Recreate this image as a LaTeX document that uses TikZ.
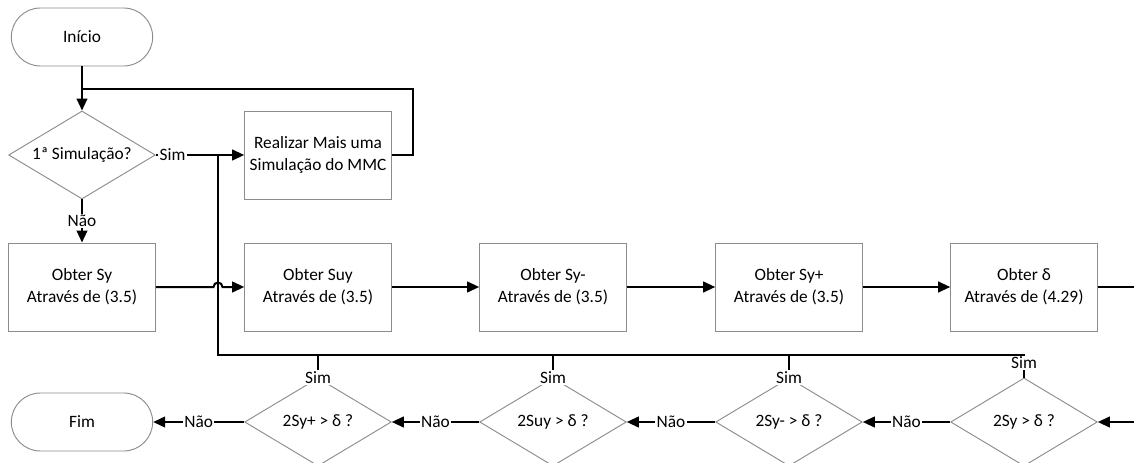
\documentclass[tikz,border=0pt]{standalone}
\usepackage{fontspec}
\setmainfont{Carlito}
\usetikzlibrary{positioning,arrows.meta,calc,shapes.geometric,shapes.misc}
\tikzset{
  >={Triangle[length=9pt,width=8pt]},
  procbox/.style={draw=black!45,line width=0.7pt,minimum width=110pt,
    minimum height=66pt,inner sep=2pt,align=center,
    font=\fontsize{13}{16.5}\selectfont},
  termbox/.style={procbox,rounded rectangle,minimum height=43.5pt},
  decbox/.style={procbox,diamond,aspect=1.67,inner sep=0pt},
  flow/.style={->,line width=1.5pt},
  wire/.style={line width=1.5pt},
  flowlbl/.style={font=\fontsize{13}{16}\selectfont,fill=white,inner sep=1pt},
}
\begin{document}
\begin{tikzpicture}[x=0.75pt,y=-0.75pt]
  \useasboundingbox (0,0) rectangle (1134,463);
  % start and first test
  \node[termbox] (start) at (82,37) {Início};
  \node[decbox] (sim1) at (82,155) {1ª Simulação?};
  \node[procbox] (mmc) at (318,155) {Realizar Mais uma\\Simulação do MMC};
  % row of computations
  \node[procbox] (obtSy) at (82,287) {Obter Sy\\Através de (3.5)};
  \node[procbox] (obtSuy) at (318,287) {Obter Suy\\Através de (3.5)};
  \node[procbox] (obtSym) at (553,287) {Obter Sy-\\Através de (3.5)};
  \node[procbox] (obtSyp) at (789,287) {Obter Sy+\\Através de (3.5)};
  \node[procbox] (obtDelta) at (1024,287) {Obter δ\\Através de (4.29)};
  % row of checks
  \node[termbox] (fim) at (82,422) {Fim};
  \node[decbox] (dec1) at (318,422) {2Sy+ > δ ?};
  \node[decbox] (dec2) at (553,422) {2Suy > δ ?};
  \node[decbox] (dec3) at (789,422) {2Sy- > δ ?};
  \node[decbox] (dec4) at (1024,422) {2Sy > δ ?};
  % helper points
  \coordinate (loopTop) at (413,89);
  \coordinate (jn) at (218,155);
  \coordinate (bus) at (218,355);
  \coordinate (outR) at (1134,287);
  \coordinate (inR) at (1134,422);
  % top part
  \draw[flow] (start.south) -- (sim1.north);
  \draw[wire] (mmc.east) -| (loopTop) -- (loopTop -| sim1.north);
  \draw[flow] (sim1.east) -- (mmc.west) node[flowlbl,pos=0.19] {Sim};
  \draw[flow] (sim1.south) -- (obtSy.north) node[flowlbl,pos=0.5] {Não};
  % computations (hop over the loop line)
  \draw[flow] (obtSy.east) -- ($(jn |- obtSy.east)+(-4.5,0)$)
    arc[start angle=180,end angle=360,radius=4.5] -- (obtSuy.west);
  \draw[flow] (obtSuy) -- (obtSym);
  \draw[flow] (obtSym) -- (obtSyp);
  \draw[flow] (obtSyp) -- (obtDelta);
  \draw[wire] (obtDelta.east) -- (outR);
  % checks
  \draw[flow] (inR) -- (dec4.east);
  \draw[flow] (dec4.west) -- (dec3.east) node[flowlbl,midway] {Não};
  \draw[flow] (dec3.west) -- (dec2.east) node[flowlbl,midway] {Não};
  \draw[flow] (dec2.west) -- (dec1.east) node[flowlbl,midway] {Não};
  \draw[flow] (dec1.west) -- (fim.east) node[flowlbl,midway] {Não};
  % yes branches back to the loop
  \draw[wire] (dec4.north) -- (dec4.north |- bus) node[flowlbl,pos=0.65] {Sim}
    -- (bus) -- (jn);
  \draw[wire] (dec3.north) -- (dec3.north |- bus) node[flowlbl,pos=0] {Sim};
  \draw[wire] (dec2.north) -- (dec2.north |- bus) node[flowlbl,pos=0] {Sim};
  \draw[wire] (dec1.north) -- (dec1.north |- bus) node[flowlbl,pos=0] {Sim};
\end{tikzpicture}
\end{document}
